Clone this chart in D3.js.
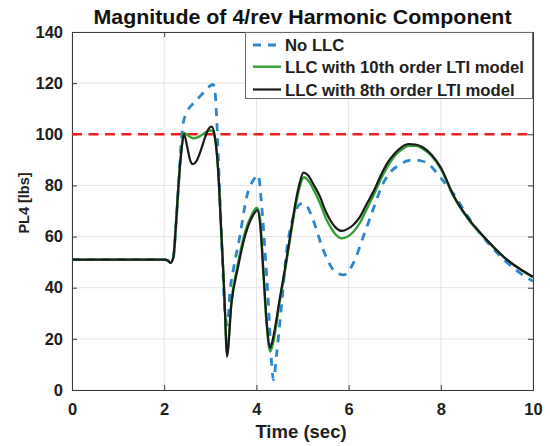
<!DOCTYPE html>
<html>
<head>
<meta charset="utf-8">
<script src="https://cdn.jsdelivr.net/npm/d3@7"></script>
<style>
  html, body { margin: 0; padding: 0; background: #fff; }
  svg { display: block; font-family: "Liberation Sans", Arial, Helvetica, sans-serif; font-weight: bold; }
</style>
</head>
<body>
<svg id="chart" width="550" height="446"></svg>
<script>
// Time axis ticks and value axis ticks
const xTicks = [0, 2, 4, 6, 8, 10];
const yTicks = [0, 20, 40, 60, 80, 100, 120, 140];
const limitValue = 100;

// No LLC (baseline response)
const noLlcTime = [0, 1, 2.0, 2.08, 2.14, 2.2, 2.26, 2.31, 2.37, 2.41, 2.5, 2.6, 2.7, 2.8, 2.9, 3.0, 3.06, 3.1, 3.14, 3.17, 3.22, 3.27, 3.32, 3.37, 3.43, 3.5, 3.64, 3.79, 3.93, 4.04, 4.11, 4.19, 4.26, 4.33, 4.37, 4.44, 4.55, 4.66, 4.76, 4.86, 4.95, 5.02, 5.1, 5.23, 5.45, 5.67, 5.89, 6.1, 6.32, 6.5, 6.75, 6.95, 7.11, 7.25, 7.4, 7.55, 7.7, 7.98, 8.3, 8.6, 9.0, 9.4, 9.7, 10];
const noLlcValue = [51, 51, 51, 50.6, 49.7, 52, 66, 80, 97, 104, 109, 111.5, 113.3, 115.3, 117.2, 119, 119.5, 117, 105.6, 92.6, 70, 48, 30, 25.5, 39, 47, 60, 75.6, 82, 84, 73, 53.5, 34, 10.4, 4, 14.3, 34, 55, 65, 70.5, 72.7, 73, 71.8, 66.5, 54.8, 47, 45, 49.5, 60, 69, 80.8, 86, 88, 89.5, 90, 89.7, 88.8, 83.4, 76, 67.5, 58, 50.5, 46, 42.5];

// LLC with 10th order LTI model
const llc10Time = [0, 1, 2.0, 2.08, 2.14, 2.2, 2.26, 2.31, 2.37, 2.43, 2.52, 2.63, 2.75, 2.88, 2.98, 3.03, 3.1, 3.17, 3.24, 3.28, 3.32, 3.36, 3.46, 3.59, 3.75, 3.9, 4.01, 4.08, 4.15, 4.22, 4.3, 4.38, 4.5, 4.62, 4.73, 4.84, 4.94, 5.03, 5.12, 5.25, 5.38, 5.5, 5.6, 5.72, 5.85, 5.98, 6.1, 6.25, 6.4, 6.55, 6.7, 6.85, 7.0, 7.15, 7.3, 7.45, 7.6, 7.8, 8.0, 8.27, 8.6, 9.0, 9.4, 9.7, 10];
const llc10Value = [51, 51, 51, 50.6, 49.7, 52, 66, 80, 93, 100.5, 99.5, 98.4, 99, 100.5, 101.5, 101.5, 98.5, 86, 61, 47, 30, 14, 35, 48.5, 61.5, 68.5, 71.3, 67, 46, 26, 15, 20, 34, 46.5, 59, 71, 79.5, 83.2, 82, 78, 73, 67.5, 64, 60.8, 59.3, 60, 61.8, 65.5, 71, 76.5, 82.5, 87.5, 91.5, 94, 95.5, 95.5, 94.5, 91.5, 86.5, 76, 66.7, 58.5, 51.5, 47.5, 44];

// LLC with 8th order LTI model
const llc8Time = [0, 1, 2.0, 2.08, 2.14, 2.2, 2.26, 2.31, 2.37, 2.43, 2.5, 2.56, 2.62, 2.7, 2.8, 2.9, 2.97, 3.03, 3.1, 3.17, 3.24, 3.28, 3.32, 3.36, 3.46, 3.59, 3.75, 3.9, 3.97, 4.02, 4.08, 4.15, 4.22, 4.3, 4.38, 4.5, 4.62, 4.73, 4.84, 4.94, 5.02, 5.12, 5.25, 5.38, 5.5, 5.6, 5.72, 5.85, 5.98, 6.1, 6.25, 6.4, 6.55, 6.7, 6.85, 7.0, 7.15, 7.3, 7.45, 7.6, 7.8, 8.0, 8.27, 8.6, 9.0, 9.4, 9.7, 10];
const llc8Value = [51, 51, 51, 50.6, 49.7, 52, 66, 80, 93, 100, 95, 90, 88.3, 89.5, 94, 99.5, 102.3, 103, 99, 86, 61, 47, 30, 13, 34, 47, 60, 67.5, 69.5, 70.4, 65, 47, 27.4, 16.5, 22, 35, 47.5, 60, 72.5, 81, 85, 84, 80, 75.6, 70, 66.5, 63.5, 62.2, 63, 64.5, 67.8, 73, 78, 84, 89, 92.5, 95, 96.2, 96, 95, 92, 87, 76.3, 67, 58.7, 51.5, 47.5, 44.3];

const seriesNames = ["No LLC", "LLC with 10th order LTI model", "LLC with 8th order LTI model"];

const svg = d3.select("#chart");
const margin = { left: 72, right: 17, top: 32, bottom: 56 };
const W = 550, H = 446;
const plotW = W - margin.left - margin.right;
const plotH = H - margin.top - margin.bottom;

const x = d3.scaleLinear().domain([0, 10]).range([0, plotW]);
const y = d3.scaleLinear().domain([0, 140]).range([plotH, 0]);

const g = svg.append("g").attr("transform", `translate(${margin.left},${margin.top})`);

// grid
g.append("g").selectAll("line.vg").data(xTicks).join("line")
  .attr("x1", d => x(d)).attr("x2", d => x(d)).attr("y1", 0).attr("y2", plotH)
  .attr("stroke", "#e4e4e4").attr("stroke-width", 1);
g.append("g").selectAll("line.hg").data(yTicks).join("line")
  .attr("y1", d => y(d)).attr("y2", d => y(d)).attr("x1", 0).attr("x2", plotW)
  .attr("stroke", "#e4e4e4").attr("stroke-width", 1);

// axes with inward ticks
const tickColor = "#3a3a3a";
g.append("g").call(d3.axisLeft(y).tickValues(yTicks).tickSize(-5).tickPadding(9));
g.append("g").attr("transform", `translate(0,${plotH})`)
  .call(d3.axisBottom(x).tickValues(xTicks).tickSize(-5).tickPadding(13));
g.append("g").attr("transform", `translate(${plotW},0)`)
  .call(d3.axisRight(y).tickValues(yTicks).tickSize(-5).tickFormat(""));
g.append("g")
  .call(d3.axisTop(x).tickValues(xTicks).tickSize(-5).tickFormat(""));
g.selectAll(".domain, .tick line").attr("stroke", tickColor).attr("stroke-width", 1);
g.selectAll(".tick text").attr("font-size", 16.5).attr("font-weight", "bold")
  .attr("fill", "#1e1e1e").attr("font-family", "Liberation Sans, Arial, sans-serif");

// limit line
g.append("line")
  .attr("x1", 0).attr("x2", plotW).attr("y1", y(limitValue)).attr("y2", y(limitValue))
  .attr("stroke", "#f21c1c").attr("stroke-width", 2.6).attr("stroke-dasharray", "10,6.5");

const line = d3.line().curve(d3.curveMonotoneX).x(d => x(d[0])).y(d => y(d[1]));
const zip = (t, v) => t.map((ti, i) => [ti, v[i]]);

const styles = [
  { color: "#2b87c9", width: 2.8, dash: "8,7" },
  { color: "#32a032", width: 2.4, dash: null },
  { color: "#1a1a1a", width: 2.2, dash: null }
];
const seriesData = [zip(noLlcTime, noLlcValue), zip(llc10Time, llc10Value), zip(llc8Time, llc8Value)];

seriesData.forEach((pts, i) => {
  g.append("path").datum(pts)
    .attr("d", line)
    .attr("fill", "none")
    .attr("stroke", styles[i].color)
    .attr("stroke-width", styles[i].width)
    .attr("stroke-dasharray", styles[i].dash)
    .attr("stroke-linejoin", "round");
});

// legend (top-right)
const lg = svg.append("g");
lg.append("rect")
  .attr("x", 245.5).attr("y", 32.5).attr("width", 287).attr("height", 66)
  .attr("fill", "#fff").attr("stroke", "#6a6a6a").attr("stroke-width", 1);
const rowY = [45, 66.7, 89.5];
seriesNames.forEach((name, i) => {
  lg.append("line")
    .attr("x1", 253).attr("x2", 281).attr("y1", rowY[i]).attr("y2", rowY[i])
    .attr("stroke", styles[i].color).attr("stroke-width", styles[i].width)
    .attr("stroke-dasharray", i === 0 ? "8,7" : null);
  lg.append("text")
    .attr("x", 285).attr("y", rowY[i] + 6)
    .attr("font-size", 16.7).attr("fill", "#1e1e1e")
    .text(name);
});

// title and axis labels
svg.append("text")
  .attr("x", margin.left + plotW / 2).attr("y", 24)
  .attr("text-anchor", "middle").attr("font-size", 21).attr("fill", "#111")
  .attr("textLength", 418).attr("lengthAdjust", "spacingAndGlyphs")
  .text("Magnitude of 4/rev Harmonic Component");
svg.append("text")
  .attr("x", 301).attr("y", 438)
  .attr("text-anchor", "middle").attr("font-size", 18.5).attr("fill", "#1e1e1e")
  .text("Time (sec)");
svg.append("text")
  .attr("transform", "translate(29,203) rotate(-90)")
  .attr("text-anchor", "middle").attr("font-size", 14.5).attr("fill", "#1e1e1e")
  .text("PL4 [lbs]");
</script>
</body>
</html>
